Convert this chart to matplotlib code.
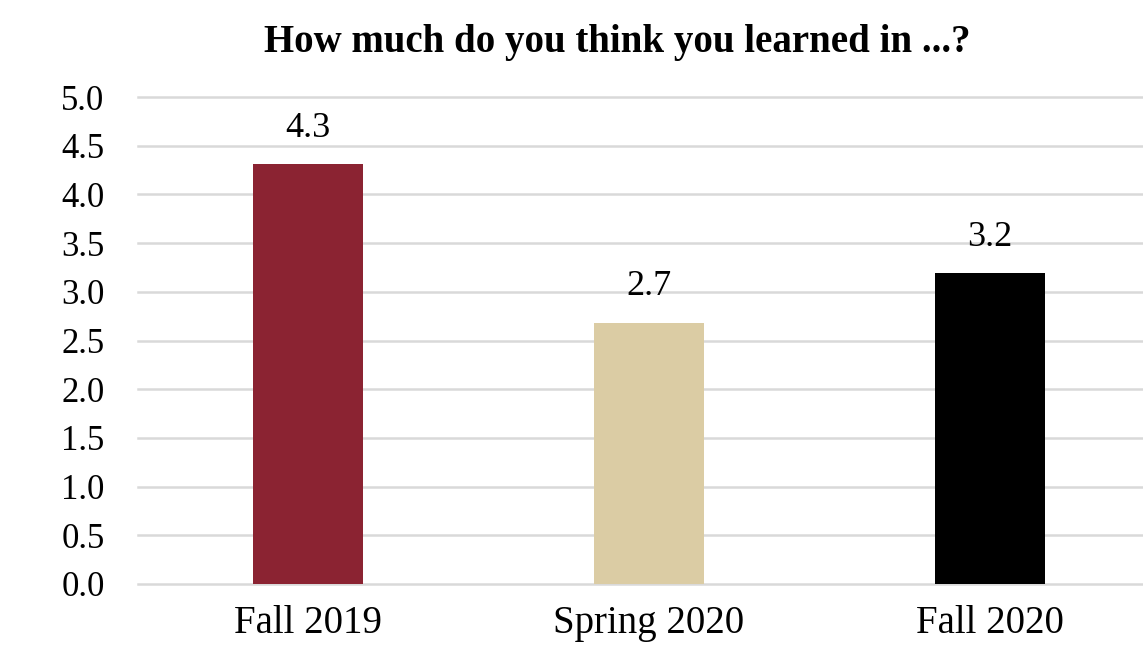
import matplotlib.pyplot as plt
import numpy as np

categories = ["Fall 2019", "Spring 2020", "Fall 2020"]
scores = [4.31, 2.68, 3.19]
bar_colors = ["#8B2332", "#DBCCA4", "#000000"]
yticks = [0.0, 0.5, 1.0, 1.5, 2.0, 2.5, 3.0, 3.5, 4.0, 4.5, 5.0]

plt.rcParams["font.family"] = ["Liberation Serif", "DejaVu Serif"]

fig = plt.figure(figsize=(11.43, 6.45), dpi=100)
ax = fig.add_axes([138 / 1143, 61 / 645, 1022 / 1143, 487 / 645])

x = np.arange(len(categories))
ax.bar(x, scores, width=0.323, color=bar_colors, zorder=3)

# value labels above bars
for xi, v in zip(x, scores):
    ax.text(xi, v + 0.2, f"{v:.1f}", ha="center", va="bottom", fontsize=26)

ax.set_xlim(-0.5, 2.5)
ax.set_ylim(0, 5)
ax.set_yticks(yticks)
ax.set_yticklabels([f"{t:.1f}" for t in yticks], fontsize=25)
ax.set_xticks(x)
ax.set_xticklabels(categories, fontsize=28)
ax.tick_params(axis="y", length=0, pad=24)
ax.tick_params(axis="x", length=0, pad=15)
ax.grid(axis="y", color="#d9d9d9", linewidth=1.8, zorder=0)
for line in ax.get_ygridlines():
    line.set_clip_on(False)
for s in ax.spines.values():
    s.set_visible(False)

fig.text(617 / 1143, 1 - 52 / 645, "How much do you think you learned in ...?",
         ha="center", va="baseline", fontsize=28, fontweight="bold")

fig.savefig("out.png", dpi=100)
